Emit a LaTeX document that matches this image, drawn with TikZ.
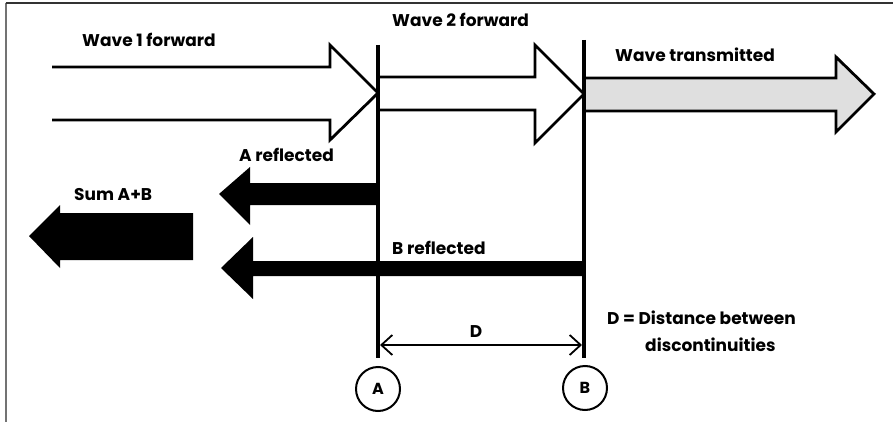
\documentclass[tikz,border=0pt]{standalone}
\usepackage{fontspec}
\setmainfont{Poppins}
\usetikzlibrary{arrows.meta}
\begin{document}
\begin{tikzpicture}[x=1pt,y=-1pt,
  lbl/.style={font=\fontsize{17}{20}\selectfont\bfseries, inner sep=0pt},
  disc/.style={line width=4pt},
  hollow/.style={line width=2.8pt, line join=miter},
  solidarrow/.style={fill=black, draw=none},
  ring/.style={circle, draw, line width=2pt, minimum size=44pt, inner sep=0pt, font=\fontsize{16}{19}\selectfont\bfseries}]
\useasboundingbox (0,0) rectangle (893,422);
% frame
\draw[line width=2pt, gray!90!black] (5.5,3.5) -- (5.5,422);
\draw[line width=2pt, black!80] (5.5,3.5) -- (893,3.5);
% discontinuity lines
\coordinate (Atop) at (378,45);
\coordinate (Abot) at (378,358);
\coordinate (Btop) at (584,40);
\coordinate (Bbot) at (584,358);
% wave 1 forward (open arrow)
\draw[hollow] (52,67) -- (330,67) -- (330,45) -- (378,93) -- (330,140) -- (330,120) -- (52,120);
% wave 2 forward
\draw[hollow] (380,77) -- (535,77) -- (535,45) -- (584,94) -- (535,143) -- (535,110) -- (380,110);
% wave transmitted
\fill[gray!25] (584,78) -- (836,78) -- (836,57) -- (874,94) -- (836,132) -- (836,111) -- (584,111) -- cycle;
\draw[hollow] (586,78) -- (836,78) -- (836,57) -- (874,94) -- (836,132) -- (836,111) -- (586,111);
% A reflected
\fill[solidarrow] (378,183) -- (250,183) -- (250,167) -- (219,194) -- (250,225) -- (250,205) -- (378,205) -- cycle;
% B reflected
\fill[solidarrow] (584,261) -- (253,261) -- (253,237) -- (221,268) -- (253,299) -- (253,276) -- (584,276) -- cycle;
% Sum A+B
\fill[solidarrow] (193,213) -- (60,213) -- (60,205) -- (29,236) -- (60,268) -- (60,260) -- (193,260) -- cycle;
% vertical lines
\draw[disc] (Atop) -- (Abot);
\draw[disc] (Btop) -- (Bbot);
% circles
\node[ring] (A) at (378,389) {A};
\node[ring] (B) at (585,388) {B};
% distance arrow
\coordinate (DL) at (380,345);
\coordinate (DR) at (582,345);
\draw[line width=1.8pt, {Straight Barb[length=11pt,width=20pt,line width=1.8pt]}-{Straight Barb[length=11pt,width=20pt,line width=1.8pt]}] (DL) -- (DR);
% labels
\node[lbl, anchor=west] (w1) at (82,40) {Wave 1 forward};
\node[lbl, anchor=west] (w2) at (392,20) {Wave 2 forward};
\node[lbl, anchor=west] (wt) at (615,55) {Wave transmitted};
\node[lbl, anchor=west] (ar) at (239,155) {A reflected};
\node[lbl, anchor=west] (sum) at (74,195) {Sum A+B};
\node[lbl, anchor=west] (br) at (392,248) {B reflected};
\node[lbl] (dl) at (476,332) {D};
\node[lbl, anchor=west] (dd) at (607,318) {D = Distance between};
\node[lbl, anchor=west] (dd2) at (645,345) {discontinuities};
\end{tikzpicture}
\end{document}
